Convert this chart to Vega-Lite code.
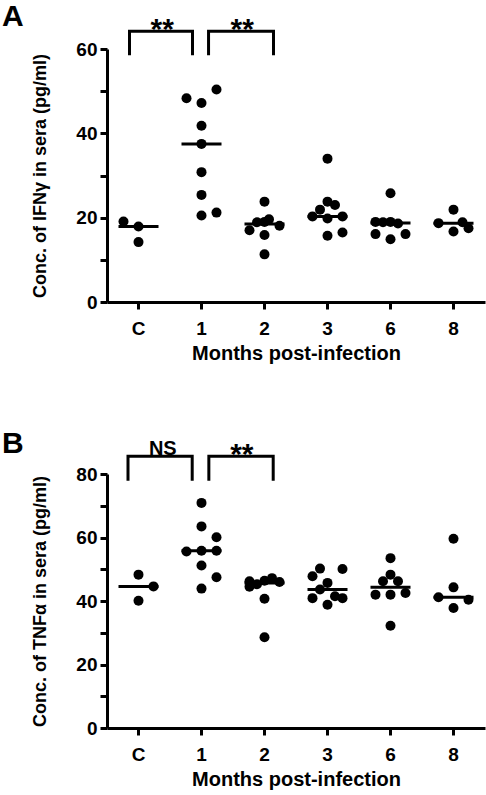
{
  "$schema": "https://vega.github.io/schema/vega-lite/v6.json",
  "background": "white",
  "padding": {"left": 2, "top": 2, "right": 1, "bottom": 2},
  "config": {
    "view": {"stroke": null},
    "font": "Liberation Sans",
    "axis": {
      "grid": false,
      "domainColor": "black",
      "domainWidth": 3,
      "tickColor": "black",
      "tickWidth": 3,
      "tickSize": 7,
      "labelFont": "Liberation Sans",
      "labelFontSize": 19,
      "labelFontWeight": "bold",
      "labelColor": "black",
      "titleFont": "Liberation Sans",
      "titleFontWeight": "bold",
      "titleColor": "black"
    },
    "axisX": {"labelAngle": 0, "labelPadding": 10, "titlePadding": 5, "titleFontSize": 20},
    "axisY": {"labelPadding": 3, "titlePadding": 26, "titleFontSize": 18},
    "title": {"font": "Liberation Sans", "fontSize": 30, "fontWeight": "bold", "color": "black", "anchor": "start", "frame": "group"}
  },
  "datasets": {
    "pts": [
      {"p": "A", "m": "C", "j": -1, "v": 19.1},
      {"p": "A", "m": "C", "j": 0, "v": 17.9},
      {"p": "A", "m": "C", "j": 0, "v": 14.2},
      {"p": "A", "m": "1", "j": -1, "v": 48.3},
      {"p": "A", "m": "1", "j": 0, "v": 47.2},
      {"p": "A", "m": "1", "j": 1, "v": 50.4},
      {"p": "A", "m": "1", "j": 0, "v": 41.8},
      {"p": "A", "m": "1", "j": 0, "v": 37.5},
      {"p": "A", "m": "1", "j": 0, "v": 30.8},
      {"p": "A", "m": "1", "j": 0, "v": 25.4},
      {"p": "A", "m": "1", "j": 0, "v": 20.5},
      {"p": "A", "m": "1", "j": 1, "v": 21.2},
      {"p": "A", "m": "2", "j": 0, "v": 23.8},
      {"p": "A", "m": "2", "j": -1, "v": 17.0},
      {"p": "A", "m": "2", "j": -0.5, "v": 18.9},
      {"p": "A", "m": "2", "j": 0, "v": 19.0},
      {"p": "A", "m": "2", "j": 0.3, "v": 19.6},
      {"p": "A", "m": "2", "j": 1, "v": 18.1},
      {"p": "A", "m": "2", "j": 0, "v": 15.9},
      {"p": "A", "m": "2", "j": 0, "v": 11.3},
      {"p": "A", "m": "3", "j": 0, "v": 34.0},
      {"p": "A", "m": "3", "j": 0, "v": 23.8},
      {"p": "A", "m": "3", "j": 0.5, "v": 23.0},
      {"p": "A", "m": "3", "j": -0.5, "v": 21.9},
      {"p": "A", "m": "3", "j": -1, "v": 20.3},
      {"p": "A", "m": "3", "j": 0, "v": 19.8},
      {"p": "A", "m": "3", "j": 1, "v": 20.3},
      {"p": "A", "m": "3", "j": 0, "v": 15.7},
      {"p": "A", "m": "3", "j": 1, "v": 16.5},
      {"p": "A", "m": "6", "j": 0, "v": 25.8},
      {"p": "A", "m": "6", "j": -1, "v": 19.0},
      {"p": "A", "m": "6", "j": -0.5, "v": 18.9},
      {"p": "A", "m": "6", "j": 0, "v": 19.0},
      {"p": "A", "m": "6", "j": 0.5, "v": 18.6},
      {"p": "A", "m": "6", "j": -1, "v": 16.1},
      {"p": "A", "m": "6", "j": 0, "v": 14.9},
      {"p": "A", "m": "6", "j": 1, "v": 16.1},
      {"p": "A", "m": "8", "j": 0, "v": 21.9},
      {"p": "A", "m": "8", "j": -1, "v": 18.7},
      {"p": "A", "m": "8", "j": 0.6, "v": 18.9},
      {"p": "A", "m": "8", "j": 1, "v": 17.5},
      {"p": "A", "m": "8", "j": 0, "v": 16.7},
      {"p": "B", "m": "C", "j": 0, "v": 48.3},
      {"p": "B", "m": "C", "j": 0, "v": 40.1},
      {"p": "B", "m": "C", "j": 1, "v": 44.6},
      {"p": "B", "m": "1", "j": 0, "v": 70.9},
      {"p": "B", "m": "1", "j": 0, "v": 63.5},
      {"p": "B", "m": "1", "j": 1, "v": 60.1},
      {"p": "B", "m": "1", "j": -1, "v": 55.6},
      {"p": "B", "m": "1", "j": 0, "v": 55.8},
      {"p": "B", "m": "1", "j": 1, "v": 55.8},
      {"p": "B", "m": "1", "j": 0, "v": 51.2},
      {"p": "B", "m": "1", "j": 1, "v": 47.5},
      {"p": "B", "m": "1", "j": 0, "v": 43.9},
      {"p": "B", "m": "2", "j": -1, "v": 46.2},
      {"p": "B", "m": "2", "j": -1, "v": 44.5},
      {"p": "B", "m": "2", "j": -0.5, "v": 45.3},
      {"p": "B", "m": "2", "j": 0, "v": 46.4},
      {"p": "B", "m": "2", "j": 0.5, "v": 47.2},
      {"p": "B", "m": "2", "j": 1, "v": 46.0},
      {"p": "B", "m": "2", "j": 0, "v": 40.7},
      {"p": "B", "m": "2", "j": 0, "v": 28.6},
      {"p": "B", "m": "3", "j": -0.5, "v": 50.2},
      {"p": "B", "m": "3", "j": 1, "v": 50.1},
      {"p": "B", "m": "3", "j": -1, "v": 47.8},
      {"p": "B", "m": "3", "j": 0, "v": 45.7},
      {"p": "B", "m": "3", "j": -0.5, "v": 43.6},
      {"p": "B", "m": "3", "j": -1, "v": 40.9},
      {"p": "B", "m": "3", "j": 0.5, "v": 41.5},
      {"p": "B", "m": "3", "j": 1, "v": 40.9},
      {"p": "B", "m": "3", "j": 0, "v": 38.8},
      {"p": "B", "m": "6", "j": 0, "v": 53.5},
      {"p": "B", "m": "6", "j": 0, "v": 48.3},
      {"p": "B", "m": "6", "j": -0.5, "v": 46.2},
      {"p": "B", "m": "6", "j": 0.5, "v": 46.2},
      {"p": "B", "m": "6", "j": -1, "v": 42.0},
      {"p": "B", "m": "6", "j": 0, "v": 42.0},
      {"p": "B", "m": "6", "j": 1, "v": 42.5},
      {"p": "B", "m": "6", "j": 0, "v": 32.2},
      {"p": "B", "m": "8", "j": 0, "v": 59.6},
      {"p": "B", "m": "8", "j": 0, "v": 44.3},
      {"p": "B", "m": "8", "j": -1, "v": 41.2},
      {"p": "B", "m": "8", "j": 1, "v": 40.4},
      {"p": "B", "m": "8", "j": 0, "v": 37.8}
    ],
    "br": [
      {"p": "A", "b": "A1", "o": 1, "m": "C", "j": -0.6, "v": 58.5},
      {"p": "A", "b": "A1", "o": 2, "m": "C", "j": -0.6, "v": 64.2},
      {"p": "A", "b": "A1", "o": 3, "m": "1", "j": -0.6, "v": 64.2},
      {"p": "A", "b": "A1", "o": 4, "m": "1", "j": -0.6, "v": 58.5},
      {"p": "A", "b": "A2", "o": 1, "m": "1", "j": 0.47, "v": 58.5},
      {"p": "A", "b": "A2", "o": 2, "m": "1", "j": 0.47, "v": 64.2},
      {"p": "A", "b": "A2", "o": 3, "m": "2", "j": 0.6, "v": 64.2},
      {"p": "A", "b": "A2", "o": 4, "m": "2", "j": 0.6, "v": 58.5},
      {"p": "B", "b": "B1", "o": 1, "m": "C", "j": -0.7, "v": 77.9},
      {"p": "B", "b": "B1", "o": 2, "m": "C", "j": -0.7, "v": 85.6},
      {"p": "B", "b": "B1", "o": 3, "m": "1", "j": -0.62, "v": 85.6},
      {"p": "B", "b": "B1", "o": 4, "m": "1", "j": -0.62, "v": 77.9},
      {"p": "B", "b": "B2", "o": 1, "m": "1", "j": 0.49, "v": 77.9},
      {"p": "B", "b": "B2", "o": 2, "m": "1", "j": 0.49, "v": 85.6},
      {"p": "B", "b": "B2", "o": 3, "m": "2", "j": 0.58, "v": 85.6},
      {"p": "B", "b": "B2", "o": 4, "m": "2", "j": 0.58, "v": 77.9}
    ],
    "lab": [
      {"p": "A", "m": "C", "j": 1.58, "v": 62.3, "t": "**", "fs": 30},
      {"p": "A", "m": "1", "j": 2.71, "v": 62.3, "t": "**", "fs": 30},
      {"p": "B", "m": "C", "j": 1.62, "v": 86.1, "t": "NS", "fs": 20},
      {"p": "B", "m": "1", "j": 2.69, "v": 83.3, "t": "**", "fs": 30}
    ]
  },
  "vconcat": [
    {
      "width": 378,
      "height": 253,
      "title": {"text": "A", "dx": -105, "offset": -17},
      "encoding": {
        "x": {"field": "m", "type": "ordinal", "scale": {"domain": ["C", "1", "2", "3", "6", "8"], "paddingInner": 0, "paddingOuter": 0}, "title": "Months post-infection"},
        "y": {"field": "v", "type": "quantitative", "scale": {"domain": [0, 60], "nice": false}, "title": "Conc. of IFNγ in sera (pg/ml)", "axis": {"values": [0, 10, 20, 30, 40, 50, 60], "labelExpr": "datum.value % 20 == 0 ? datum.label : ''"}}
      },
      "layer": [
        {
          "data": {"name": "pts"},
          "transform": [{"filter": "datum.p == 'A'"}],
          "mark": {"type": "circle", "size": 100, "color": "black", "opacity": 1},
          "encoding": {"xOffset": {"field": "j", "type": "quantitative", "scale": {"domain": [-2.1, 2.1]}}}
        },
        {
          "data": {"name": "pts"},
          "transform": [{"filter": "datum.p == 'A'"}],
          "mark": {"type": "tick", "size": 40, "thickness": 3, "color": "black", "opacity": 1},
          "encoding": {"y": {"aggregate": "median", "field": "v", "type": "quantitative", "title": "Conc. of IFNγ in sera (pg/ml)"}}
        },
        {
          "data": {"name": "br"},
          "transform": [{"filter": "datum.p == 'A'"}],
          "mark": {"type": "line", "color": "black", "strokeWidth": 3, "strokeJoin": "miter", "strokeCap": "butt"},
          "encoding": {"xOffset": {"field": "j", "type": "quantitative", "scale": {"domain": [-2.1, 2.1]}}, "detail": {"field": "b"}, "order": {"field": "o", "type": "quantitative"}}
        },
        {
          "data": {"name": "lab"},
          "transform": [{"filter": "datum.p == 'A'"}],
          "mark": {"type": "text", "fontWeight": "bold", "baseline": "alphabetic", "color": "black", "font": "Liberation Sans"},
          "encoding": {"xOffset": {"field": "j", "type": "quantitative", "scale": {"domain": [-2.1, 2.1]}}, "text": {"field": "t"}, "size": {"field": "fs", "type": "quantitative", "scale": null}}
        }
      ]
    },
    {
      "width": 378,
      "height": 254,
      "title": {"text": "B", "dx": -105, "offset": -20},
      "encoding": {
        "x": {"field": "m", "type": "ordinal", "scale": {"domain": ["C", "1", "2", "3", "6", "8"], "paddingInner": 0, "paddingOuter": 0}, "title": "Months post-infection"},
        "y": {"field": "v", "type": "quantitative", "scale": {"domain": [0, 80], "nice": false}, "title": "Conc. of TNFα in sera (pg/ml)", "axis": {"values": [0, 10, 20, 30, 40, 50, 60, 70, 80], "labelExpr": "datum.value % 20 == 0 ? datum.label : ''"}}
      },
      "layer": [
        {
          "data": {"name": "pts"},
          "transform": [{"filter": "datum.p == 'B'"}],
          "mark": {"type": "circle", "size": 100, "color": "black", "opacity": 1},
          "encoding": {"xOffset": {"field": "j", "type": "quantitative", "scale": {"domain": [-2.1, 2.1]}}}
        },
        {
          "data": {"name": "pts"},
          "transform": [{"filter": "datum.p == 'B'"}],
          "mark": {"type": "tick", "size": 40, "thickness": 3, "color": "black", "opacity": 1},
          "encoding": {"y": {"aggregate": "median", "field": "v", "type": "quantitative", "title": "Conc. of TNFα in sera (pg/ml)"}}
        },
        {
          "data": {"name": "br"},
          "transform": [{"filter": "datum.p == 'B'"}],
          "mark": {"type": "line", "color": "black", "strokeWidth": 3, "strokeJoin": "miter", "strokeCap": "butt"},
          "encoding": {"xOffset": {"field": "j", "type": "quantitative", "scale": {"domain": [-2.1, 2.1]}}, "detail": {"field": "b"}, "order": {"field": "o", "type": "quantitative"}}
        },
        {
          "data": {"name": "lab"},
          "transform": [{"filter": "datum.p == 'B'"}],
          "mark": {"type": "text", "fontWeight": "bold", "baseline": "alphabetic", "color": "black", "font": "Liberation Sans"},
          "encoding": {"xOffset": {"field": "j", "type": "quantitative", "scale": {"domain": [-2.1, 2.1]}}, "text": {"field": "t"}, "size": {"field": "fs", "type": "quantitative", "scale": null}}
        }
      ]
    }
  ],
  "spacing": 65
}
